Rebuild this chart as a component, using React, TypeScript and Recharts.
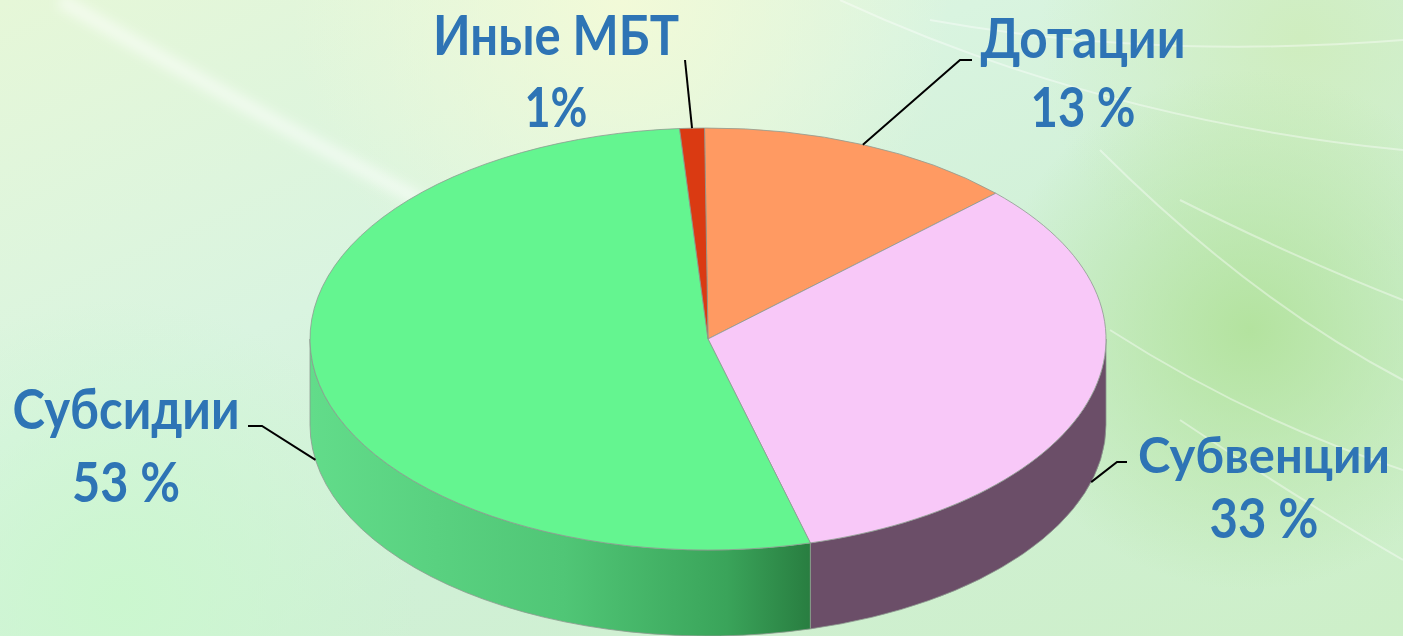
import React from "react";
import { PieChart, Pie } from "recharts";

// ---- data ----
const categories = ["Дотации", "Субвенции", "Субсидии", "Иные МБТ"];
const shares = [13, 33, 53, 1];
const percentLabels = ["13 %", "33 %", "53 %", "1%"];

const data = categories.map((name, i) => ({ name, value: shares[i] }));

// ---- styles / layout ----
const W = 1403;
const H = 636;
const CX = 708;
const CY = 339;
const R = 398;
const K = 211 / 398; // vertical squash of the top face
const DEPTH = 86;
const topColors = ["#FF9A62", "#F8C8F8", "#64F590", "#DA3A12"];
const sideColors = ["#B8603A", "#6B4E68", "url(#greenSide)", "#8A2408"];
const TEXT = "#2E74B5";
const FONT = "Lato, 'Open Sans', sans-serif";

const labelLayout = [
  { x: 1083, y1: 58, y2: 127, w1: 205, w2: 105, fs: 55, pts: [[972, 60], [960, 60]] },
  { x: 1264, y1: 473, y2: 538, w1: 252, w2: 109, fs: 50, pts: [[1127, 462], [1117, 462]] },
  { x: 126, y1: 429, y2: 502, w1: 227, w2: 108, fs: 55, pts: [[248, 426], [262, 426]] },
  { x: 556, y1: 55, y2: 127, w1: 246, w2: 63, fs: 55, pts: [[685, 60], [685, 60]] },
];

const RAD = Math.PI / 180;
const pt = (cx: number, cy: number, r: number, a: number, dy = 0) => [
  cx + r * Math.cos(a * RAD),
  cy - r * K * Math.sin(a * RAD) + dy,
];

function Slice3D(props: any) {
  const { cx, cy, outerRadius, startAngle, endAngle, index } = props;
  const r = outerRadius;
  const ry = r * K;
  const a1 = Math.max(startAngle, endAngle);
  const a2 = Math.min(startAngle, endAngle);
  const [x1, y1] = pt(cx, cy, r, a1);
  const [x2, y2] = pt(cx, cy, r, a2);
  const large = a1 - a2 > 180 ? 1 : 0;
  const top = `M${cx},${cy} L${x1},${y1} A${r},${ry} 0 ${large} 1 ${x2},${y2} Z`;

  // visible side walls: parts of arc in lower half
  const walls: string[] = [];
  for (let k = -2; k <= 2; k++) {
    const lo = -180 + 360 * k;
    const hi = 360 * k;
    const b1 = Math.min(a1, hi);
    const b2 = Math.max(a2, lo);
    if (b1 - b2 > 0.01) {
      const [p1x, p1y] = pt(cx, cy, r, b1);
      const [p2x, p2y] = pt(cx, cy, r, b2);
      walls.push(
        `M${p1x},${p1y} A${r},${ry} 0 0 1 ${p2x},${p2y} L${p2x},${p2y + DEPTH} A${r},${ry} 0 0 0 ${p1x},${p1y + DEPTH} Z`
      );
    }
  }
  return (
    <g>
      {index === 0 && (
        <defs>
          <linearGradient id="greenSide" gradientUnits="userSpaceOnUse" x1={cx - r} y1={0} x2={cx + 110} y2={0}>
            <stop offset="0" stopColor="#62DC8A" />
            <stop offset="0.5" stopColor="#50C676" />
            <stop offset="0.82" stopColor="#3AA45A" />
            <stop offset="1" stopColor="#277A3E" />
          </linearGradient>
        </defs>
      )}
      {walls.map((d, i) => (
        <path key={i} d={d} fill={sideColors[index]} stroke="#8E9A90" strokeWidth={0.8} />
      ))}
      <path d={top} fill={topColors[index]} stroke="#8E9A90" strokeWidth={0.8} />
    </g>
  );
}

function renderLabel(props: any) {
  const { cx, cy, outerRadius, midAngle, index } = props;
  const L = labelLayout[index];
  const s = Math.sin(midAngle * RAD);
  const [ex, ey] = pt(cx, cy, outerRadius, midAngle, s < 0 ? DEPTH : 0);
  const line = `M${L.pts[0][0]},${L.pts[0][1]} L${L.pts[1][0]},${L.pts[1][1]} L${ex},${ey}`;
  return (
    <g key={`lbl-${index}`}>
      <path d={line} fill="none" stroke="#000" strokeWidth={2} />
      <text
        x={L.x}
        y={L.y1}
        textAnchor="middle"
        fill={TEXT}
        fontFamily={FONT}
        fontWeight={700}
        fontSize={L.fs}
        textLength={L.w1}
        lengthAdjust="spacingAndGlyphs"
      >
        {categories[index]}
      </text>
      <text
        x={L.x}
        y={L.y2}
        textAnchor="middle"
        fill={TEXT}
        fontFamily={FONT}
        fontWeight={700}
        fontSize={55}
        textLength={L.w2}
        lengthAdjust="spacingAndGlyphs"
      >
        {percentLabels[index]}
      </text>
    </g>
  );
}

function Background() {
  const streaks = [
    "M840,0 Q1100,120 1403,150",
    "M1180,200 Q1300,260 1403,300",
    "M1100,150 Q1250,300 1403,380",
    "M1110,330 Q1250,420 1403,470",
    "M930,20 Q1150,60 1403,40",
    "M1180,420 Q1300,500 1403,560",
  ];
  return (
    <svg width={W} height={H} style={{ position: "absolute", left: 0, top: 0 }}>
      <defs>
        <linearGradient id="bgBase" x1="0" y1="0" x2="1" y2="1">
          <stop offset="0" stopColor="#E6F7D8" />
          <stop offset="0.35" stopColor="#D9F4E0" />
          <stop offset="0.6" stopColor="#D0F0D6" />
          <stop offset="1" stopColor="#CDEFC8" />
        </linearGradient>
        <radialGradient id="bgGreen" cx="1250" cy="330" r="260" gradientUnits="userSpaceOnUse">
          <stop offset="0" stopColor="#B2E29C" stopOpacity="0.95" />
          <stop offset="1" stopColor="#B2E29C" stopOpacity="0" />
        </radialGradient>
        <radialGradient id="bgYellow" cx="620" cy="0" r="330" gradientUnits="userSpaceOnUse">
          <stop offset="0" stopColor="#F2FAD8" stopOpacity="1" />
          <stop offset="1" stopColor="#F2FAD8" stopOpacity="0" />
        </radialGradient>
        <radialGradient id="bgTR" cx="1300" cy="40" r="260" gradientUnits="userSpaceOnUse">
          <stop offset="0" stopColor="#CFEDBF" stopOpacity="1" />
          <stop offset="1" stopColor="#CFEDBF" stopOpacity="0" />
        </radialGradient>
        <radialGradient id="bgBL" cx="120" cy="600" r="300" gradientUnits="userSpaceOnUse">
          <stop offset="0" stopColor="#CBF7CF" stopOpacity="1" />
          <stop offset="1" stopColor="#CBF7CF" stopOpacity="0" />
        </radialGradient>
        <filter id="blur" x="-10%" y="-10%" width="120%" height="120%">
          <feGaussianBlur stdDeviation="6" />
        </filter>
      </defs>
      <rect width={W} height={H} fill="url(#bgBase)" />
      <rect width={W} height={H} fill="url(#bgBL)" />
      <rect width={W} height={H} fill="url(#bgTR)" />
      <rect width={W} height={H} fill="url(#bgGreen)" />
      <rect width={W} height={H} fill="url(#bgYellow)" />
      <path d="M60,0 Q250,110 420,200" fill="none" stroke="#FFFFFF" strokeOpacity={0.55} strokeWidth={14} filter="url(#blur)" />
      {streaks.map((d, i) => (
        <path key={i} d={d} fill="none" stroke="#FFFFFF" strokeOpacity={0.4} strokeWidth={2} />
      ))}
    </svg>
  );
}

export default function App() {
  return (
    <div style={{ position: "absolute", left: 0, top: 0, width: W, height: H, overflow: "hidden" }}>
      <Background />
      <div style={{ position: "absolute", left: 0, top: 0 }}>
        <PieChart width={W} height={H} margin={{ top: 0, right: 0, bottom: 0, left: 0 }}>
          <Pie
            data={data}
            dataKey="value"
            nameKey="name"
            cx={CX}
            cy={CY}
            outerRadius={R}
            startAngle={90.5}
            endAngle={-269.5}
            shape={Slice3D}
            label={renderLabel}
            labelLine={false}
            isAnimationActive={false}
            stroke="none"
          />
        </PieChart>
      </div>
    </div>
  );
}
